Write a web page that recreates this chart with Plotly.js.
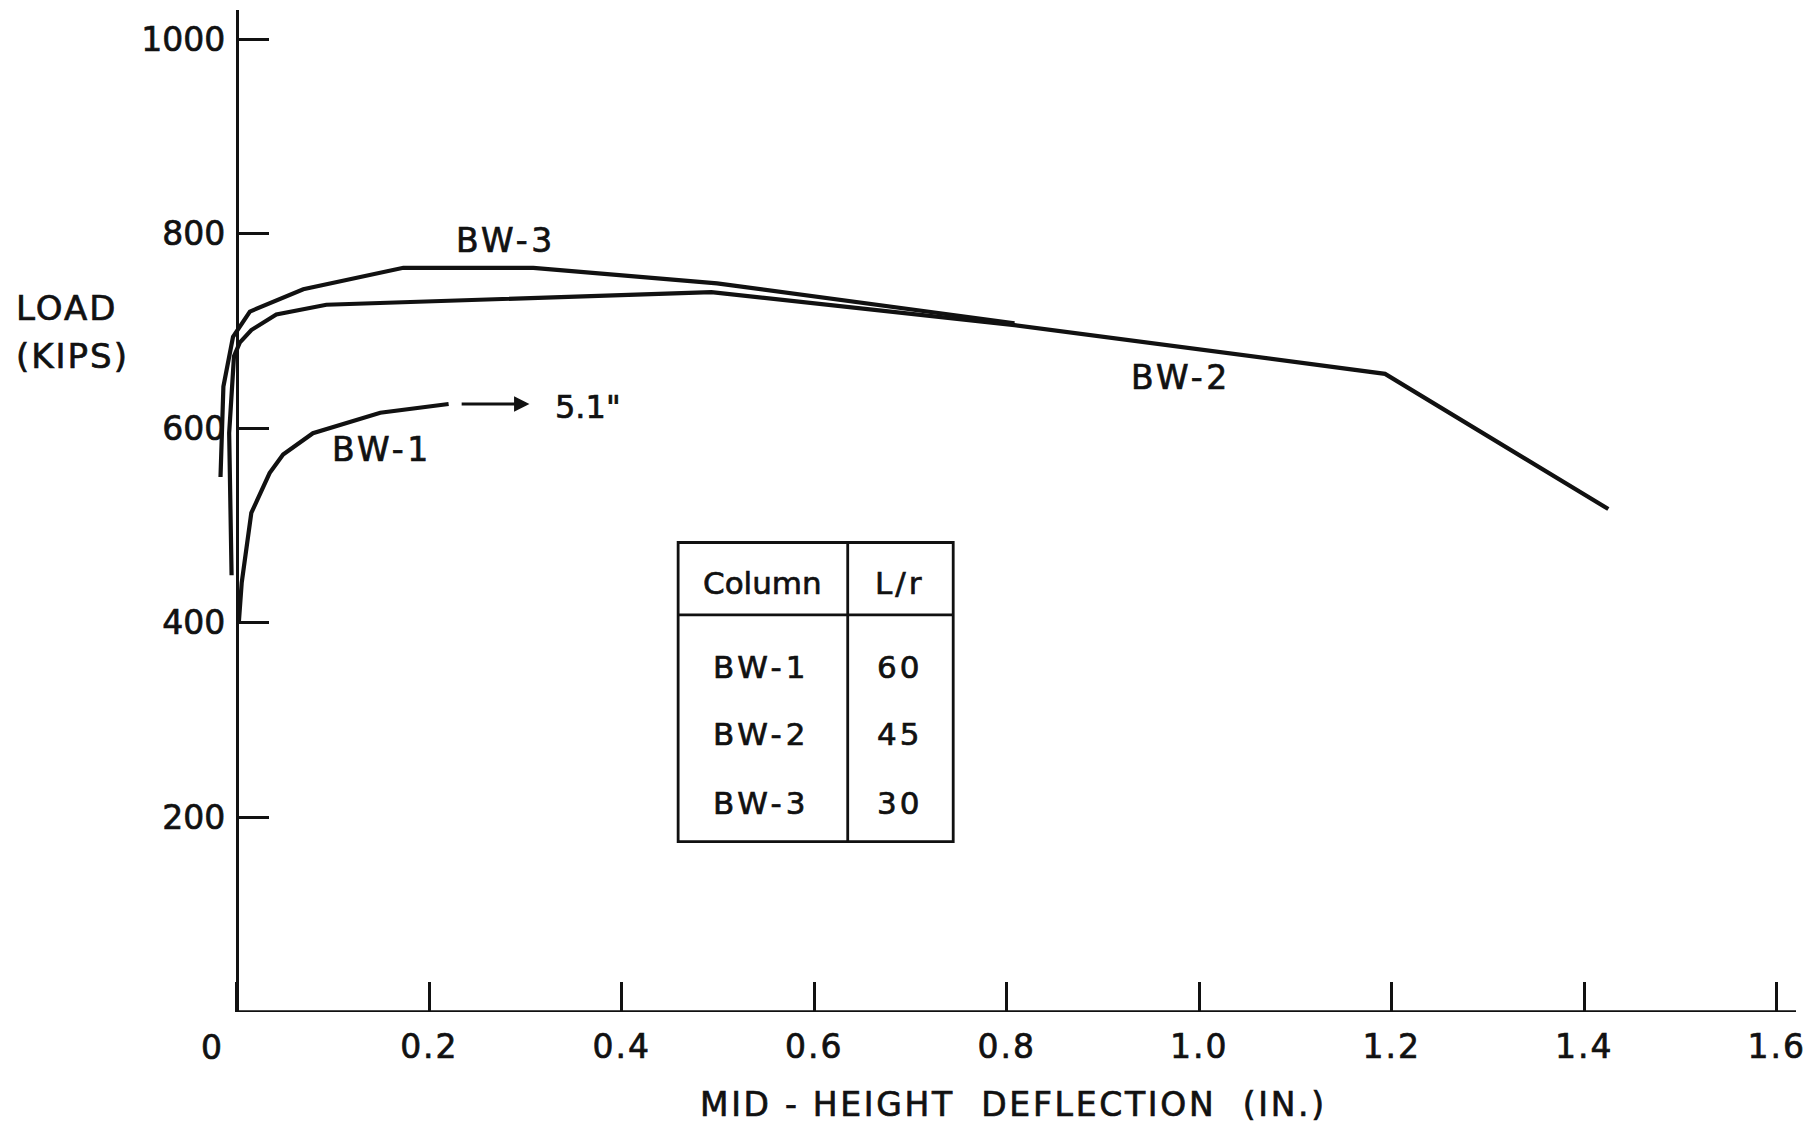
<!DOCTYPE html>
<html>
<head>
<meta charset="utf-8">
<script src="https://cdn.plot.ly/plotly-3.0.1.min.js"></script>
<style>
  html, body { margin: 0; padding: 0; background: #ffffff; }
  #chart { width: 1815px; height: 1125px; }
  .xtick text { letter-spacing: 2px; }
  .xtick text, .ytick text, .annotation-text { stroke: #111111; stroke-width: 0.7px; }
</style>
</head>
<body>
<div id="chart"></div>
<script>
// ---- Data (mid-height deflection in inches, load in kips) ----
const bw1X = [0.002, 0.005, 0.015, 0.034, 0.048, 0.079, 0.149, 0.220];
const bw1Y = [400, 441, 513, 554, 573, 595, 616, 625];

const bw2X = [-0.0055, -0.008, -0.003, 0.003, 0.015, 0.041, 0.093, 0.356, 0.493, 0.808, 1.193, 1.425];
const bw2Y = [449, 595, 674, 688, 701, 717, 727, 735, 740, 706, 656, 517];

const bw3X = [-0.017, -0.014, -0.004, 0.0135, 0.069, 0.173, 0.308, 0.499, 0.808];
const bw3Y = [550, 643, 694, 720, 743, 765, 765, 749, 708];

const xTickVals = [0, 0.2, 0.4, 0.6, 0.8, 1.0, 1.2, 1.4, 1.6];
const xTickText = ["", "0.2", "0.4", "0.6", "0.8", "1.0", "1.2", "1.4", "1.6"];
const yTickVals = [200, 400, 600, 800, 1000];
const yTickText = ["200", "400", "600", "800", "1000"];

const tableHeader = ["Column", "L/r"];
const tableColumns = ["BW-1", "BW-2", "BW-3"];
const tableLr = ["60", "45", "30"];

// ---- Layout helpers ----
const FONT = "DejaVu Sans";
const X_MIN = -0.03, X_MAX = 1.62, Y_MIN = 0, Y_MAX = 1030;
const lineStyle = {color: "#111111", width: 4.2};

function curve(x, y, name) {
  return {x: x, y: y, type: "scatter", mode: "lines", name: name,
          line: lineStyle, hoverinfo: "skip", showlegend: false};
}

const traces = [
  curve(bw1X, bw1Y, "BW-1"),
  curve(bw2X, bw2Y, "BW-2"),
  curve(bw3X, bw3Y, "BW-3")
];

// table geometry (data coordinates)
const tL = 0.4585, tR = 0.7443, tMid = 0.6347, tTop = 482.6, tBot = 175.2, tHead = 408.2;
const rowY = [355, 286, 215];
const col1X = 0.5445, col2X = 0.689;

const shapes = [
  // x axis line starting at the y axis
  {type: "line", xref: "x", yref: "y", x0: 0, x1: X_MAX, y0: 0, y1: 0,
   line: {color: "#111111", width: 3.4}},
  // table frame
  {type: "rect", xref: "x", yref: "y", x0: tL, x1: tR, y0: tBot, y1: tTop,
   line: {color: "#111111", width: 2.8}},
  {type: "line", xref: "x", yref: "y", x0: tMid, x1: tMid, y0: tBot, y1: tTop,
   line: {color: "#111111", width: 2.8}},
  {type: "line", xref: "x", yref: "y", x0: tL, x1: tR, y0: tHead, y1: tHead,
   line: {color: "#111111", width: 2.8}}
];

function spaced(text, px) {
  return px ? '<span style="letter-spacing:' + px + 'px">' + text + '</span>' : text;
}
function label(text, x, y, size, spacing) {
  return {text: spaced(text, spacing), x: x, y: y, xref: "x", yref: "y", showarrow: false,
          xanchor: "center", yanchor: "middle",
          font: {family: FONT, size: size || 32, color: "#111111"}};
}
function paperLabel(text, x, y, size, xanchor, spacing) {
  return {text: spaced(text, spacing), x: x, y: y, xref: "paper", yref: "paper", showarrow: false,
          xanchor: xanchor || "center", yanchor: "middle", align: "left",
          font: {family: FONT, size: size, color: "#111111"}};
}

const annotations = [
  label("BW-3", 0.2795, 793, 33, 3.5),
  label("BW-1", 0.1506, 578, 33, 3.5),
  label("BW-2", 0.981, 652, 33, 3.5),
  label("5.1\"", 0.3647, 622, 32),
  // arrow for BW-1 continuing to 5.1"
  {x: 0.304, y: 625, ax: 0.232, ay: 625, xref: "x", yref: "y", axref: "x", ayref: "y",
   text: "", showarrow: true, arrowhead: 2, arrowsize: 1.1, arrowwidth: 2.8, arrowcolor: "#111111"},
  // "0" tick label, offset left of the origin
  paperLabel("0", 0.0025, -0.035, 33),
  // axis titles
  paperLabel("MID - HEIGHT  DEFLECTION  (IN.)", 0.507, -0.0928, 33, "center", 2.7),
  paperLabel("LOAD", -0.1222, 0.7025, 34, "left", 2),
  paperLabel("(KIPS)", -0.1222, 0.6545, 34, "left", 2)
];

tableHeader.forEach(function (h, i) {
  annotations.push(label(h, i === 0 ? 0.5465 : col2X, 441, 31, i === 0 ? 0 : 3));
});
tableColumns.forEach(function (c, i) {
  annotations.push(label(c, col1X, rowY[i], 31, 4));
  annotations.push(label(tableLr[i], col2X, rowY[i], 31, 3));
});

const layout = {
  width: 1815, height: 1125,
  margin: {l: 208, r: 19, t: 10, b: 113},
  paper_bgcolor: "#ffffff", plot_bgcolor: "#ffffff",
  showlegend: false,
  xaxis: {
    range: [X_MIN, X_MAX], showgrid: false, zeroline: false, showline: false,
    tickmode: "array", tickvals: xTickVals, ticktext: xTickText,
    ticks: "inside", ticklen: 30, tickwidth: 2.8, tickcolor: "#111111",
    ticklabelstandoff: 12,
    tickfont: {family: FONT, size: 33, color: "#111111"}
  },
  yaxis: {
    range: [Y_MIN, Y_MAX], showgrid: false, zeroline: false,
    anchor: "free", position: (0 - X_MIN) / (X_MAX - X_MIN),
    showline: true, linecolor: "#111111", linewidth: 3.4,
    tickmode: "array", tickvals: yTickVals, ticktext: yTickText,
    ticks: "inside", ticklen: 30, tickwidth: 2.8, tickcolor: "#111111",
    ticklabelstandoff: 4,
    tickfont: {family: FONT, size: 33, color: "#111111"}
  },
  shapes: shapes,
  annotations: annotations
};

Plotly.newPlot("chart", traces, layout, {staticPlot: true, displayModeBar: false});
</script>
</body>
</html>
